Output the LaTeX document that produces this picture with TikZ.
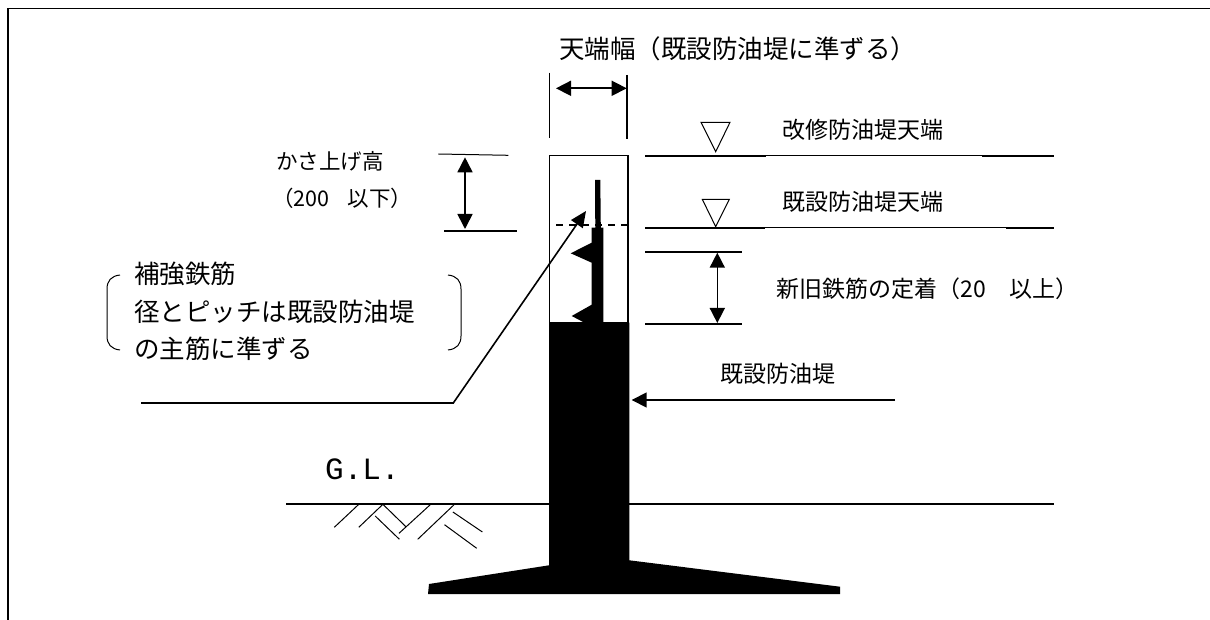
\documentclass[tikz,border=0pt]{standalone}
\usepackage{fontspec}
\setmainfont{Noto Sans CJK JP}
\newfontfamily\glfont{Liberation Mono}
\usetikzlibrary{arrows.meta,positioning,calc}
\tikzset{
    lbl/.style={inner sep=0pt, anchor=west, font=\fontsize{23pt}{26pt}\selectfont},
    lblsmall/.style={inner sep=0pt, anchor=west, font=\fontsize{21.5pt}{24pt}\selectfont},
    lblbig/.style={inner sep=0pt, anchor=west, font=\fontsize{25.5pt}{28pt}\selectfont},
    leader/.style={line width=1.6pt},
    thinline/.style={line width=1pt},
    hatchline/.style={line width=1pt},
    dimarrow/.style={line width=1.6pt, {Triangle[length=15pt,width=15pt]}-{Triangle[length=15pt,width=15pt]}},
    levelmark/.style={line width=1pt},
    solidpart/.style={fill=black, draw=none}
}
\begin{document}
\begin{tikzpicture}[x=1pt,y=-1pt]
    \useasboundingbox (0,0) rectangle (1210,620);

    % Frame
    \draw[line width=1.3pt] (8,620) -- (8,8.3) -- (1210,8.3);

    % Wall and footing
    \draw[line width=1.4pt] (549.5,155.7) rectangle (628,323);
    \draw[solidpart] (549,322.7) -- (629.3,322.7) -- (629.3,560.3) -- (840,586.7) -- (840,594)
        -- (428,594) -- (429,584) -- (549,565.3) -- cycle;

    % Rebar
    \draw[solidpart] (595,180) -- (600.3,180) -- (600.8,227.7) -- (603.3,227.7) -- (603.3,323)
        -- (585,323) -- (571.7,316) -- (591.7,304.7) -- (591.7,262.7) -- (570.7,253.3)
        -- (591.7,242.7) -- (591.7,227.7) -- (595.3,227.7) -- cycle;
    \draw[line width=1.4pt, dash pattern=on 7pt off 6pt] (556,225) -- (628,225);

    % Top width
    \coordinate (wl1) at (549.3,72.7);
    \coordinate (wl2) at (549.3,138.3);
    \coordinate (wr1) at (627,75);
    \coordinate (wr2) at (627,139.3);
    \coordinate (wa1) at (556,88.3);
    \coordinate (wa2) at (626.7,88.3);
    \draw[leader] (wl1) -- (wl2);
    \draw[leader] (wr1) -- (wr2);
    \draw[dimarrow] (wa1) -- (wa2);
    \node[lblbig] (topwidth) at (559,49) {天端幅（既設防油堤に準ずる）};

    % Level lines
    \draw[leader] (645,156) -- (766,156);
    \draw[thinline] (766,156) -- (982,156);
    \draw[leader] (982,156) -- (1054,156);
    \draw[leader] (645,228) -- (765,228);
    \draw[thinline] (765,228) -- (1006,228);
    \draw[leader] (1006,228) -- (1054,228);
    \draw[levelmark] (701,122.3) -- (730,122.3) -- (715.7,151.7) -- cycle;
    \draw[levelmark] (702.3,199.3) -- (729.3,199.3) -- (715.7,226.7) -- cycle;
    \node[lbl] (newtop) at (782,129.5) {改修防油堤天端};
    \node[lbl] (oldtop) at (782,201.5) {既設防油堤天端};

    % Anchorage
    \coordinate (c1) at (645,252);
    \coordinate (c2) at (742,252);
    \coordinate (d1) at (645,324);
    \coordinate (d2) at (742,324);
    \coordinate (ca) at (717.3,252.7);
    \coordinate (da) at (717.3,323);
    \draw[leader] (c1) -- (c2);
    \draw[leader] (d1) -- (d2);
    \draw[dimarrow] (ca) -- (da);
    \node[lbl] (anchorlen) at (776.5,288.3) {新旧鉄筋の定着（20\hspace{1em}以上）};

    % Raised height
    \coordinate (e1) at (438.3,154);
    \coordinate (e2) at (508.3,155.3);
    \coordinate (f1) at (444,231);
    \coordinate (f2) at (516.7,231);
    \coordinate (ea) at (465,157.3);
    \coordinate (fa) at (465,229);
    \draw[thinline] (e1) -- (e2);
    \draw[leader] (f1) -- (f2);
    \draw[dimarrow] (ea) -- (fa);
    \node[lblsmall] (raise) at (276,161.5) {かさ上げ高};
    \node[lblsmall] (raisenum) at (272,198) {（200\hspace{.85em}以下）};

    % Rebar note
    \node[lblbig] (note1) at (134,273.5) {補強鉄筋};
    \node[lblbig] (note2) at (134,311.5) {径とピッチは既設防油堤};
    \node[lblbig] (note3) at (134,349) {の主筋に準ずる};
    \draw[thinline] (120,275) .. controls (111,276) and (107,281) .. (107,289) -- (107,336)
        .. controls (107,344) and (111,349) .. (120,350);
    \draw[thinline] (448,275) .. controls (457,276) and (461,281) .. (461,289) -- (461,336)
        .. controls (461,344) and (457,349) .. (448,350);
    \coordinate (lead0) at (141,403);
    \coordinate (lead1) at (453.3,403);
    \coordinate (lead2) at (586,211);
    \draw[leader, -{Triangle[length=16pt,width=14pt]}] (lead0) -- (lead1) -- (lead2);

    % Existing wall
    \coordinate (oldend) at (895,400);
    \coordinate (oldtip) at (631.7,400);
    \draw[leader, -{Triangle[length=15pt,width=15pt]}] (oldend) -- (oldtip);
    \node[lbl] (oldwall) at (720,374) {既設防油堤};

    % Ground
    \draw[leader] (286,504) -- (549,504);
    \draw[leader] (629,504) -- (1054,504);
    \node[inner sep=0pt, anchor=base west, font=\glfont\fontsize{31pt}{34pt}\selectfont] (gl) at (325,479) {G.L.};
    \draw[hatchline] (334.3,527.3) -- (358.8,504.3);
    \draw[hatchline] (358.8,527.3) -- (382.9,504.3);
    \draw[hatchline] (382.9,504.3) -- (405.9,526.7);
    \draw[hatchline] (375.2,516) -- (399.4,539.3);
    \draw[hatchline] (399,533.3) -- (430.7,504.3);
    \draw[hatchline] (417.7,539.3) -- (454.5,504.3);
    \draw[hatchline] (452.9,512) -- (482.4,532);
    \draw[hatchline] (444.5,524.7) -- (476.7,548.3);
\end{tikzpicture}
\end{document}
